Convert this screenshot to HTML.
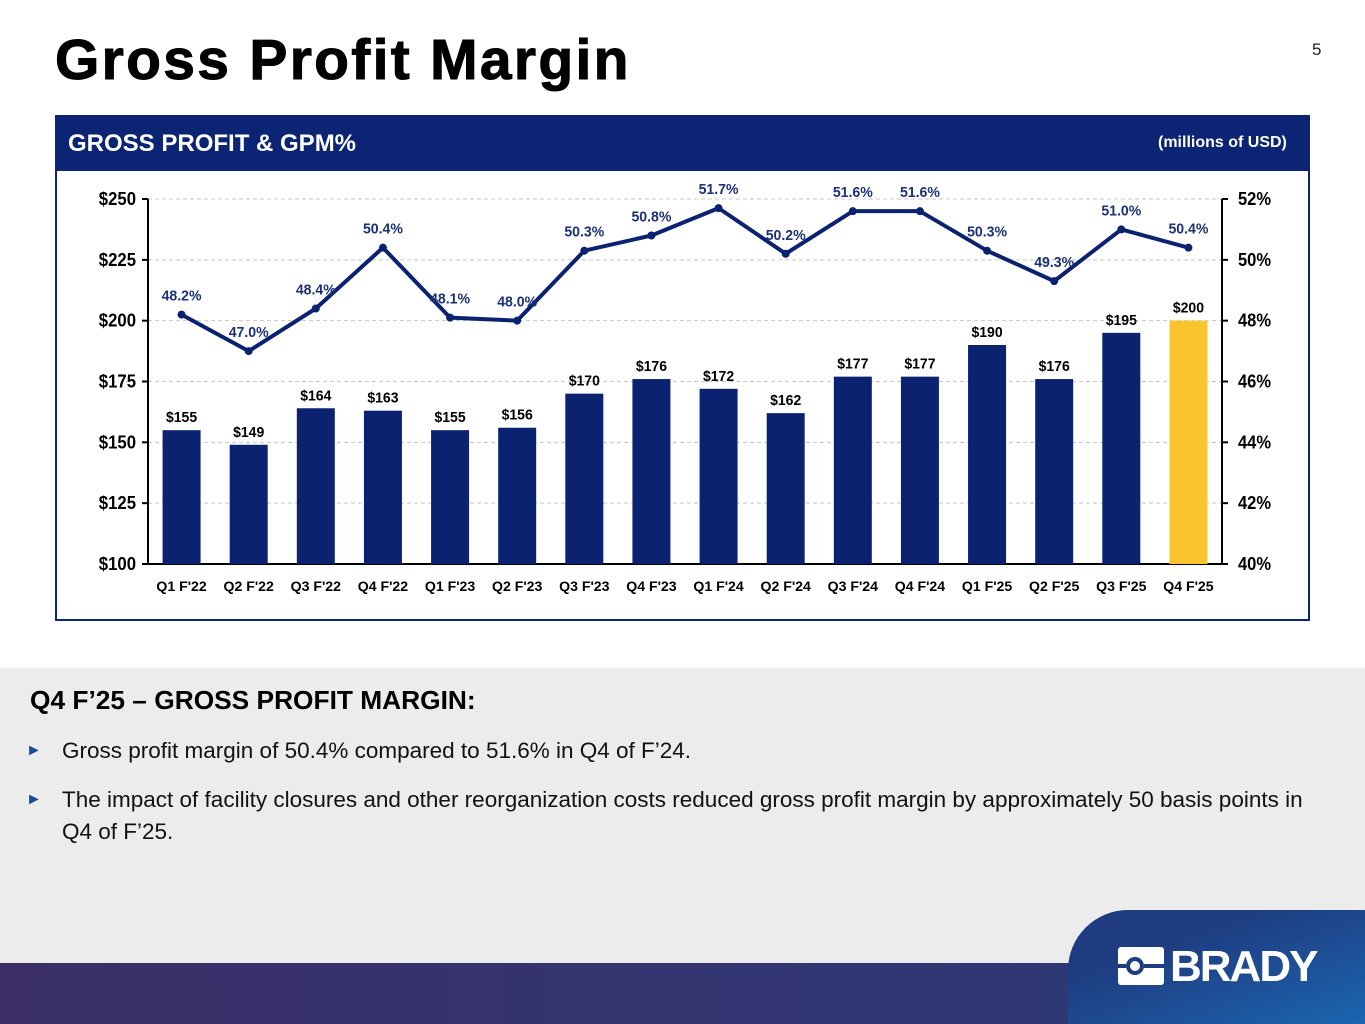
<!DOCTYPE html>
<html><head><meta charset="utf-8"><style>
body{margin:0;width:1365px;height:1024px;position:relative;overflow:hidden;background:#fff;font-family:"Liberation Sans",Arial,sans-serif}
.abs{position:absolute}
</style></head><body>
<div class="abs" style="left:55px;top:27px;font-size:57px;font-weight:bold;color:#000;letter-spacing:2.3px;-webkit-text-stroke:1px #000">Gross Profit Margin</div>
<div class="abs" style="left:1312px;top:40px;font-size:17px;color:#222">5</div>
<div class="abs" style="left:55px;top:115px;width:1255px;height:506px;border:2px solid #0b2473;box-sizing:border-box"></div>
<div class="abs" style="left:55px;top:115px;width:1255px;height:56px;background:#0b2473"></div>
<div class="abs" style="left:68px;top:130px;font-size:24px;font-weight:bold;color:#fff">GROSS PROFIT &amp; GPM%</div>
<div class="abs" style="left:1158px;top:134px;font-size:16px;font-weight:bold;color:#fff">(millions of USD)</div>
<svg class="abs" style="left:0;top:0" width="1365" height="640" id="chart"></svg>
<div class="abs" style="left:0;top:668px;width:1365px;height:300px;background:#ececec"></div>
<div class="abs" style="left:30px;top:685px;font-size:26.3px;font-weight:bold;color:#000">Q4 F’25 – GROSS PROFIT MARGIN:</div>
<div class="abs" style="left:26px;top:738px;font-size:22.5px;color:#111"><span style="color:#1a4aa0;font-size:16px;position:absolute;left:0;top:4px">►</span><span style="position:absolute;left:36px;white-space:nowrap">Gross profit margin of 50.4% compared to 51.6% in Q4 of F’24.</span></div>
<div class="abs" style="left:26px;top:784px;width:1300px;font-size:22.5px;color:#111;line-height:32px"><span style="color:#1a4aa0;font-size:16px;position:absolute;left:0;top:0">►</span><div style="margin-left:36px">The impact of facility closures and other reorganization costs reduced gross profit margin by approximately 50 basis points in Q4 of F’25.</div></div>
<div class="abs" style="left:0;top:963px;width:1365px;height:61px;background:linear-gradient(90deg,#3c2f68,#2a3a78)"></div>
<div class="abs" style="left:1068px;top:910px;width:297px;height:114px;border-top-left-radius:60px;background:linear-gradient(160deg,#1f3c80 30%,#1b65b0)"></div>
<div class="abs" style="left:1118px;top:945px;height:42px">
<svg width="46" height="40" style="position:absolute;left:0;top:2px"><rect x="0" y="0" width="46" height="38" rx="3" fill="#fff"/><circle cx="17" cy="19" r="9" fill="#1f3c80"/><circle cx="17" cy="19" r="5" fill="#fff"/><rect x="-2" y="17" width="10" height="4" fill="#1f3c80"/><rect x="26" y="17" width="20" height="4" fill="#1f3c80"/></svg>
<span style="position:absolute;left:52px;top:-3px;font-size:44px;font-weight:bold;color:#fff;letter-spacing:-2px">BRADY</span></div>
<script>
const categories=["Q1 F'22","Q2 F'22","Q3 F'22","Q4 F'22","Q1 F'23","Q2 F'23","Q3 F'23","Q4 F'23","Q1 F'24","Q2 F'24","Q3 F'24","Q4 F'24","Q1 F'25","Q2 F'25","Q3 F'25","Q4 F'25"];
const grossProfit=[155,149,164,163,155,156,170,176,172,162,177,177,190,176,195,200];
const gpm=[48.2,47.0,48.4,50.4,48.1,48.0,50.3,50.8,51.7,50.2,51.6,51.6,50.3,49.3,51.0,50.4];
const leftTicks=[100,125,150,175,200,225,250];
const rightTicks=[40,42,44,46,48,50,52];
const svg=document.getElementById('chart');
const NS='http://www.w3.org/2000/svg';
const X0=148,X1=1222,Y0=564,Y1=199;
const yL=v=>Y0-(v-100)/150*(Y0-Y1);
const yR=v=>Y0-(v-40)/12*(Y0-Y1);
const step=(X1-X0)/categories.length;
const xC=i=>X0+step*(i+0.5);
function mk(t,a,txt){const e=document.createElementNS(NS,t);for(const k in a)e.setAttribute(k,a[k]);if(txt!=null)e.textContent=txt;svg.appendChild(e);return e;}
const F='"Liberation Sans",Arial,sans-serif';
function tl(s,w){return {textLength:s.length*w,lengthAdjust:'spacingAndGlyphs'};}
leftTicks.forEach((v,i)=>{
 if(i>0){const g=mk('line',{x1:X0,x2:X1,y1:yL(v),y2:yL(v),stroke:'#c8c8c8','stroke-dasharray':'4,3'});
 
 }
 const s='$'+v;
 const t=mk('text',Object.assign({x:X0-12,y:yL(v)+6,'text-anchor':'end','font-size':18,'font-weight':'bold','font-family':F,fill:'#000'},tl(s,9.3)),s);
 
 
 mk('line',{x1:X0-6,x2:X0,y1:yL(v),y2:yL(v),stroke:'#000','stroke-width':2});
});
rightTicks.forEach(v=>{
 const s=v+'%';
 const t=mk('text',Object.assign({x:X1+16,y:yR(v)+6,'font-size':18,'font-weight':'bold','font-family':F,fill:'#000'},tl(s,11)),s);
 
 
 mk('line',{x1:X1,x2:X1+6,y1:yR(v),y2:yR(v),stroke:'#000','stroke-width':2});
});
mk('line',{x1:X0,x2:X0,y1:Y1,y2:Y0,stroke:'#000','stroke-width':2});
mk('line',{x1:X1,x2:X1,y1:Y1,y2:Y0,stroke:'#000','stroke-width':2});
mk('line',{x1:X0,x2:X1,y1:Y0,y2:Y0,stroke:'#000','stroke-width':2});
const bw=38;
grossProfit.forEach((v,i)=>{
 const last=i===grossProfit.length-1;
 const r=mk('rect',{x:xC(i)-bw/2,y:yL(v),width:bw,height:Y0-yL(v),fill:last?'#fcc42c':'#0b2270'});
 
 
 const s='$'+v;
 const t=mk('text',Object.assign({x:xC(i),y:yL(v)-8,'text-anchor':'middle','font-size':15,'font-weight':'bold','font-family':F,fill:'#000'},tl(s,7.8)),s);
 
 
 const c=mk('text',Object.assign({x:xC(i),y:Y0+27,'text-anchor':'middle','font-size':14,'font-weight':'bold','font-family':F,fill:'#000'},tl(categories[i],7.2)),categories[i]);
 
 
});
const pl=mk('polyline',{points:gpm.map((v,i)=>xC(i)+','+yR(v)).join(' '),fill:'none',stroke:'#0b2270','stroke-width':4,'stroke-linejoin':'round'});


gpm.forEach((v,i)=>{
 const d=mk('circle',{cx:xC(i),cy:yR(v),r:4,fill:'#0b2270'});
 
 
 const s=v.toFixed(1)+'%';
 const t=mk('text',Object.assign({x:xC(i),y:yR(v)-14,'text-anchor':'middle','font-size':15,'font-weight':'bold','font-family':F,fill:'#1c3278'},tl(s,8)),s);
 
 
});
</script>
</body></html>
